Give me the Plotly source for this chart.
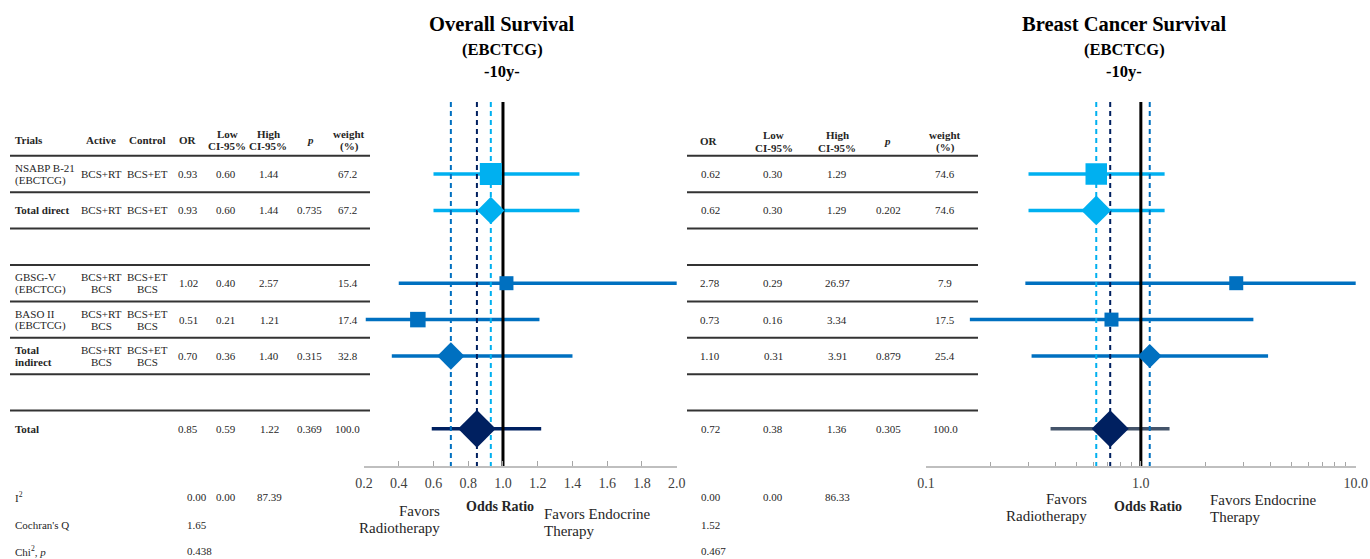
import plotly.graph_objects as go

W, H = 1370, 559
FONT = "Liberation Serif"
TXT = "#262626"

# ---------------- data ----------------
trial_names = ["NSABP B-21\n(EBCTCG)", "Total direct", "", "GBSG-V\n(EBCTCG)",
               "BASO II\n(EBCTCG)", "Total\nindirect", "", "Total"]
row_kind = ["study", "pooled", "gap", "study", "study", "pooled", "gap", "overall"]
active_arm = ["BCS+RT", "BCS+RT", "", "BCS+RT\nBCS", "BCS+RT\nBCS", "BCS+RT\nBCS", "", ""]
control_arm = ["BCS+ET", "BCS+ET", "", "BCS+ET\nBCS", "BCS+ET\nBCS", "BCS+ET\nBCS", "", ""]

# Overall survival (10 years)
os_or = [0.93, 0.93, None, 1.02, 0.51, 0.70, None, 0.85]
os_low = [0.60, 0.60, None, 0.40, 0.21, 0.36, None, 0.59]
os_high = [1.44, 1.44, None, 2.57, 1.21, 1.40, None, 1.22]
os_p = [None, 0.735, None, None, None, 0.315, None, 0.369]
os_weight = [67.2, 67.2, None, 15.4, 17.4, 32.8, None, 100.0]

# Breast cancer survival (10 years)
bcs_or = [0.62, 0.62, None, 2.78, 0.73, 1.10, None, 0.72]
bcs_low = [0.30, 0.30, None, 0.29, 0.16, 0.31, None, 0.38]
bcs_high = [1.29, 1.29, None, 26.97, 3.34, 3.91, None, 1.36]
bcs_p = [None, 0.202, None, None, None, 0.879, None, 0.305]
bcs_weight = [74.6, 74.6, None, 7.9, 17.5, 25.4, None, 100.0]

# heterogeneity statistics
os_i2 = [0.00, 0.00, 87.39]
os_cochran_q = 1.65
os_chi_p = 0.438
bcs_i2 = [0.00, 0.00, 86.33]
bcs_cochran_q = 1.52
bcs_chi_p = 0.467

os_ticks = [0.2, 0.4, 0.6, 0.8, 1.0, 1.2, 1.4, 1.6, 1.8, 2.0]
bcs_ticks = [0.1, 1.0, 10.0]
bcs_minor = [0.2, 0.3, 0.4, 0.5, 0.6, 0.7, 0.8, 0.9, 2, 3, 4, 5, 6, 7, 8, 9]

# ---------------- styling ----------------
LIGHT, MID, NAVY, SLATE = "#00B0F0", "#0070C0", "#002060", "#44546A"
row_color = [LIGHT, LIGHT, None, MID, MID, MID, None, NAVY]
os_size = [22, 21, None, 14, 15.5, 21, None, 29]
bcs_size = [21.5, 23, None, 14, 14, 18.5, None, 28.5]

ROW0_PX, ROW_PX, AXIS_PX, REF_TOP_PX = 174, 36.4, 466, 102


def px_row(py):
    return (py - ROW0_PX) / ROW_PX


def xp(px):
    return px / W


def yp(py):
    return 1 - py / H


fig = go.Figure()
ann = []


def text(x, y, s, size=11, bold=False, italic=False, anchor="center",
         yref="y", yshift=0, color=TXT):
    if not s:
        return
    if bold:
        s = "<b>" + s + "</b>"
    if italic:
        s = "<i>" + s + "</i>"
    ann.append(dict(x=xp(x), y=y, xref="paper", yref=yref, text=s,
                    showarrow=False, xanchor=anchor, yanchor="middle",
                    yshift=yshift, font=dict(family=FONT, size=size, color=color)))


def cell(x, row, s, size=11, bold=False, italic=False, anchor="center", gap=12):
    lines = s.split("\n")
    n = len(lines)
    for k, line in enumerate(lines):
        text(x, row, line, size=size, bold=bold, italic=italic, anchor=anchor,
             yshift=(n - 1) * gap / 2 - k * gap)


def fmt(v, d):
    return "" if v is None else f"{v:.{d}f}"


# ---------------- left table ----------------
head_row = px_row(140)
cell(13, head_row, "Trials", bold=True, anchor="left")
cell(101, head_row, "Active", bold=True)
cell(147, head_row, "Control", bold=True)
cell(188, head_row, "OR", bold=True)
cell(227, head_row, "Low\nCI-95%", bold=True)
cell(268, head_row, "High\nCI-95%", bold=True)
cell(310, head_row, "p", bold=True, italic=True)
cell(349, head_row, "weight\n(%)", bold=True)

for i, kind in enumerate(row_kind):
    if kind == "gap":
        continue
    cell(13, i, trial_names[i], bold=(kind != "study"), anchor="left")
    if active_arm[i]:
        cell(101, i, active_arm[i])
        cell(147, i, control_arm[i])
    cell(188, i, fmt(os_or[i], 2))
    cell(226, i, fmt(os_low[i], 2))
    cell(269, i, fmt(os_high[i], 2))
    cell(309, i, fmt(os_p[i], 3))
    cell(348, i, fmt(os_weight[i], 1))

# ---------------- right table ----------------
head_row_r = px_row(141)
cell(709, head_row_r, "OR", bold=True)
cell(774, head_row_r, "Low\nCI-95%", bold=True, gap=13)
cell(837, head_row_r, "High\nCI-95%", bold=True, gap=13)
cell(887, head_row_r, "p", bold=True, italic=True)
cell(945, head_row_r, "weight\n(%)", bold=True, gap=13)

for i, kind in enumerate(row_kind):
    if kind == "gap":
        continue
    cell(710, i, fmt(bcs_or[i], 2))
    cell(773, i, fmt(bcs_low[i], 2))
    cell(837, i, fmt(bcs_high[i], 2))
    cell(888, i, fmt(bcs_p[i], 3))
    cell(945, i, fmt(bcs_weight[i], 1))

# row separators
shapes = []
for i in range(len(row_kind)):
    for x0, x1 in [(10, 370), (687, 978)]:
        shapes.append(dict(type="line", xref="paper", yref="y",
                           x0=xp(x0), x1=xp(x1), y0=i - 0.5, y1=i - 0.5,
                           line=dict(color="#333333", width=2)))

# ---------------- heterogeneity block ----------------
stat_y = [497, 525, 551]
text(13, yp(stat_y[0]), "I<sup>2</sup>", anchor="left", yref="paper")
text(13, yp(stat_y[1]), "Cochran's Q", anchor="left", yref="paper")
text(13, yp(stat_y[2]), "Chi<sup>2</sup>, <i>p</i>", anchor="left", yref="paper")
text(185, yp(stat_y[0]), fmt(os_i2[0], 2), anchor="left", yref="paper")
text(226, yp(stat_y[0]), fmt(os_i2[1], 2), yref="paper")
text(269, yp(stat_y[0]), fmt(os_i2[2], 2), yref="paper")
text(185, yp(stat_y[1]), fmt(os_cochran_q, 2), anchor="left", yref="paper")
text(185, yp(stat_y[2]), fmt(os_chi_p, 3), anchor="left", yref="paper")
text(699, yp(stat_y[0]), fmt(bcs_i2[0], 2), anchor="left", yref="paper")
text(773, yp(stat_y[0]), fmt(bcs_i2[1], 2), yref="paper")
text(837, yp(stat_y[0]), fmt(bcs_i2[2], 2), yref="paper")
text(699, yp(stat_y[1]), fmt(bcs_cochran_q, 2), anchor="left", yref="paper")
text(699, yp(stat_y[2]), fmt(bcs_chi_p, 3), anchor="left", yref="paper")

# ---------------- titles and axis captions ----------------
for cx, title in [(502, "Overall Survival"), (1124, "Breast Cancer Survival")]:
    text(cx, yp(24), title, size=20.5, bold=True, yref="paper", color="black")
    text(cx, yp(49), "(EBCTCG)", size=16.5, bold=True, yref="paper", color="black")
    text(cx, yp(72), "-10y-", size=16.5, bold=True, yref="paper", color="black")

text(500, yp(507), "Odds Ratio", size=14, bold=True, yref="paper")
text(442, yp(511), "Favors", size=15, anchor="right", yref="paper")
text(442, yp(528), "Radiotherapy", size=15, anchor="right", yref="paper")
text(542, yp(514), "Favors Endocrine", size=15, anchor="left", yref="paper")
text(542, yp(531), "Therapy", size=15, anchor="left", yref="paper")

text(1148, yp(507), "Odds Ratio", size=14, bold=True, yref="paper")
text(1089, yp(499), "Favors", size=15, anchor="right", yref="paper")
text(1089, yp(516), "Radiotherapy", size=15, anchor="right", yref="paper")
text(1208, yp(500), "Favors Endocrine", size=15, anchor="left", yref="paper")
text(1208, yp(517), "Therapy", size=15, anchor="left", yref="paper")

# ---------------- forest plots ----------------
y_bottom = px_row(AXIS_PX)
ref_top = px_row(REF_TOP_PX)


def forest(xaxis, ors, lows, highs, sizes, total_line):
    rows = [i for i, k in enumerate(row_kind) if k != "gap"]
    # confidence intervals
    for i in rows:
        col = total_line if row_kind[i] == "overall" else row_color[i]
        fig.add_trace(go.Scatter(x=[lows[i], highs[i]], y=[i, i], mode="lines",
                                 xaxis=xaxis, yaxis="y", hoverinfo="skip",
                                 line=dict(color=col, width=3.5), showlegend=False))
    # pooled estimates as dashed references, plus the line of no effect
    for i in rows:
        if row_kind[i] != "study":
            fig.add_trace(go.Scatter(x=[ors[i], ors[i]], y=[ref_top, y_bottom],
                                     mode="lines", xaxis=xaxis, yaxis="y",
                                     hoverinfo="skip", showlegend=False,
                                     line=dict(color=row_color[i], width=2, dash="5px,4px")))
    fig.add_trace(go.Scatter(x=[1, 1], y=[ref_top, y_bottom], mode="lines",
                             xaxis=xaxis, yaxis="y", hoverinfo="skip", showlegend=False,
                             line=dict(color="black", width=3)))
    # point estimates
    for i in rows:
        sym = "square" if row_kind[i] == "study" else "diamond"
        fig.add_trace(go.Scatter(x=[ors[i]], y=[i], mode="markers", xaxis=xaxis, yaxis="y",
                                 showlegend=False, cliponaxis=False,
                                 marker=dict(symbol=sym, size=sizes[i], color=row_color[i],
                                             line=dict(width=0))))


forest("x", os_or, os_low, os_high, os_size, NAVY)
forest("x2", bcs_or, bcs_low, bcs_high, bcs_size, SLATE)

axis_font = dict(family=FONT, size=14, color="#404040")
fig.update_layout(
    width=W, height=H, autosize=False,
    margin=dict(l=0, r=0, t=0, b=0, pad=0, autoexpand=False),
    paper_bgcolor="white", plot_bgcolor="white",
    showlegend=False,
    annotations=ann, shapes=shapes,
    xaxis=dict(domain=[xp(364), xp(676.7)], range=[0.2, 2.0], anchor="y",
               tickvals=os_ticks, ticktext=[f"{v:.1f}" for v in os_ticks],
               ticks="inside", ticklen=5, tickcolor="#A6A6A6", tickwidth=1,
               showline=True, linecolor="#BFBFBF", linewidth=1.5,
               showgrid=False, zeroline=False, tickfont=axis_font,
               ticklabelstandoff=3, automargin=False),
    xaxis2=dict(domain=[xp(926), xp(1355.7)], type="log", range=[-1, 1], anchor="y",
                tickvals=bcs_ticks, ticktext=[f"{v:.1f}" for v in bcs_ticks],
                ticks="inside", ticklen=5, tickcolor="#A6A6A6", tickwidth=1,
                minor=dict(tickvals=bcs_minor, ticks="inside", ticklen=4,
                           tickcolor="#A6A6A6", showgrid=False),
                showline=True, linecolor="#BFBFBF", linewidth=1.5,
                showgrid=False, zeroline=False, tickfont=axis_font,
                ticklabelstandoff=3, automargin=False),
    yaxis=dict(domain=[1 - AXIS_PX / H, 1], range=[y_bottom, px_row(0)],
               visible=False, showgrid=False, zeroline=False, automargin=False),
)

fig.write_html("out.html")
